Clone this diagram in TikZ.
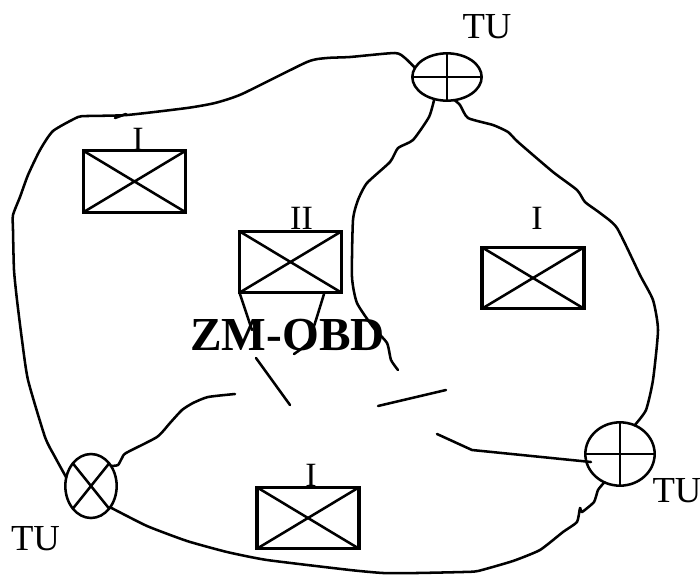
\documentclass[tikz,border=0pt]{standalone}
\usepackage{fontspec}
\setmainfont{Liberation Serif}
\usetikzlibrary{shapes.geometric}
\tikzset{
  stn/.style={draw=black,line width=2.3pt,rectangle,minimum width=76.5pt,minimum height=46pt,inner sep=0pt,outer sep=0pt},
  tuell/.style={draw=black,line width=1.9pt,ellipse,inner sep=0pt,outer sep=0pt},
  crossline/.style={line width=1.9pt},
  wire/.style={line width=1.9pt,line join=round,line cap=round},
  tulabel/.style={anchor=base,inner sep=0pt,font=\fontsize{27.5}{27.5}\selectfont},
  grade/.style={anchor=base,inner sep=0pt,font=\fontsize{25.5}{25.5}\selectfont},
  zone/.style={anchor=base,inner sep=0pt,font=\fontsize{35.5}{35.5}\selectfont\bfseries},
}
\newcommand{\xbox}[1]{\draw[crossline] (#1.north west) -- (#1.south east) (#1.north east) -- (#1.south west);}
\begin{document}
\begin{tikzpicture}[x=0.75pt,y=-0.75pt]
\useasboundingbox (0,0) rectangle (700,575);
% stations
\node[stn] (b1) at (134.5,181.5) {}; \xbox{b1}
\node[stn] (b2) at (290.5,262) {}; \xbox{b2}
\node[stn] (b3) at (533,278) {}; \xbox{b3}
\node[stn] (b4) at (308,518) {}; \xbox{b4}
% traffic units
\node[tuell,minimum width=52pt,minimum height=35.5pt] (tut) at (447,77) {};
\draw[crossline] (tut.north) -- (tut.south) (tut.west) -- (tut.east);
\node[tuell,minimum width=52pt,minimum height=47.5pt] (tur) at (620,454) {};
\draw[crossline] (tur.north) -- (tur.south) (tur.west) -- (tur.east);
\node[tuell,minimum width=38.5pt,minimum height=48pt] (tul) at (91,486) {};
\draw[crossline] (tul.north west) -- (tul.south east) (tul.north east) -- (tul.south west);
% free ends
\coordinate (e1) at (398,370);
\coordinate (e2) at (235,394);
\coordinate (e3) at (437,434);
\coordinate (e4) at (294,354);
\coordinate (e5) at (252,330);
\coordinate (s1a) at (256,358);
\coordinate (s1b) at (290,405);
\coordinate (s2a) at (378,406);
\coordinate (s2b) at (446,390);
\coordinate (t1) at (115,118);
\coordinate (t2) at (126,114);
\coordinate (r1) at (591,462);
% outer wires
\draw[wire] plot[smooth,tension=.35] coordinates {(tut.164) (405,58) (395,53) (350,57) (327,58) (307,62) (242,94) (215,103) (187,108) (127,115) (88,116) (78,117) (53,131) (40,150) (28,175) (20,197) (13,215) (13,230) (14,270) (17,300) (22,340) (28,380) (45,437) (55,457) (tul.161)};
\draw[wire] (t1) -- (t2);
\draw[wire] plot[smooth,tension=.35] coordinates {(tut.-72) (460,105) (468,118) (493,125) (508,132) (518,142) (553,172) (577,190) (585,202) (600,213) (617,228) (640,275) (653,300) (658,330) (653,380) (646,410) (tur.63)};
\draw[wire] plot[smooth,tension=.3] coordinates {(tur.241) (598,490) (594,502) (582,512) (580,508) (577,522) (563,532) (540,550) (513,561) (478,571) (463,572) (417,573) (383,573) (350,570) (267,560) (227,552) (187,541) (147,526) (tul.-48)};
% inner wires
\draw[wire] plot[smooth,tension=.35] coordinates {(tut.240) (429,117) (413,140) (398,148) (390,162) (367,183) (358,200) (353,220) (352,277) (357,303) (373,327) (387,343) (391,360) (e1)};
\draw[wire] plot[smooth,tension=.35] coordinates {(tul.45) (118,465) (122,458) (126,453) (157,437) (170,423) (182,410) (193,403) (208,397) (e2)};
\draw[wire] (r1) -- (472,450) -- (e3);
\draw[wire] (b2.south west) -- (e5);
\draw[wire] plot[smooth,tension=.35] coordinates {(324,294) (315,323) (308,343) (e4)};
\draw[wire] (s1a) -- (s1b);
\draw[wire] (s2a) -- (s2b);
% labels
\node[tulabel] (lt) at (487,38) {TU};
\node[tulabel] (ll) at (35.5,550) {TU};
\node[tulabel] (lr) at (677,502) {TU};
\node[grade] (g1) at (138,150) {I};
\node[grade] (g2) at (301.5,229) {II};
\node[grade] (g3) at (537,229) {I};
\node[grade] (g4) at (311,486) {I};
\node[zone] (zm) at (287.5,350) {ZM-OBD};
\end{tikzpicture}
\end{document}
